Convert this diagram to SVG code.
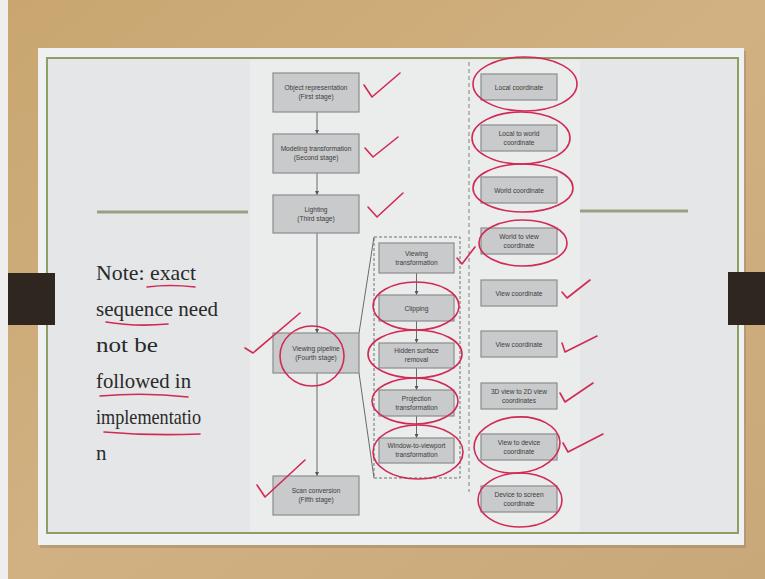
<svg xmlns="http://www.w3.org/2000/svg" width="765" height="579" viewBox="0 0 765 579">
<defs>
<linearGradient id="wood" x1="0" y1="0" x2="1" y2="1">
<stop offset="0" stop-color="#c9a66f"/>
<stop offset="0.5" stop-color="#d1b182"/>
<stop offset="1" stop-color="#c8a878"/>
</linearGradient>
<marker id="ah" viewBox="0 0 6 6" refX="6" refY="3" markerWidth="4" markerHeight="4" orient="auto">
<path d="M0,0 L6,3 L0,6 z" fill="#555"/>
</marker>
<style>
.box{fill:#c9cacb;stroke:#8c8d8e;stroke-width:1.2}
.lbl{font-family:"Liberation Sans Narrow","Liberation Sans",Arial,sans-serif;font-size:6.6px;fill:#3c3c3c;text-anchor:middle}
.con{stroke:#6a6a6a;stroke-width:1;fill:none}
.red{stroke:#d02a55;stroke-width:1.6;fill:none;stroke-linecap:round;stroke-linejoin:round}
.note{font-family:"Liberation Serif","Times New Roman",serif;font-size:21px;fill:#2a2a2a}
.rule{stroke:#9b9f82;stroke-width:3}
</style>
</defs>
<rect x="0" y="0" width="765" height="579" fill="url(#wood)"/>
<rect x="0" y="0" width="8" height="579" fill="#eeeeee"/>
<rect x="40" y="51" width="706" height="497" fill="#9c8a6a" opacity="0.5"/>
<rect x="38" y="48" width="706" height="497" fill="#eef0f1"/>
<rect x="47" y="58" width="691" height="475" fill="#e4e6e8" stroke="#8f9e64" stroke-width="2"/>
<rect x="250" y="60" width="330" height="472" fill="#ebecec"/>
<line class="rule" x1="97" y1="212" x2="248" y2="212"/>
<line class="rule" x1="580" y1="211" x2="688" y2="211"/>
<rect x="8" y="273" width="47" height="52" fill="#2e261f"/>
<rect x="728" y="272" width="37" height="53" fill="#2e261f"/>

<g id="connectors">
<line class="con" x1="317" y1="112" x2="317" y2="134" marker-end="url(#ah)"/>
<line class="con" x1="317" y1="173" x2="317" y2="195" marker-end="url(#ah)"/>
<line class="con" x1="317" y1="233" x2="317" y2="333" marker-end="url(#ah)"/>
<line class="con" x1="317" y1="373" x2="317" y2="476" marker-end="url(#ah)"/>
<line class="con" x1="359" y1="333" x2="374" y2="237" stroke="#999"/>
<line class="con" x1="359" y1="373" x2="374" y2="478" stroke="#999"/>
<line class="con" x1="416.5" y1="273" x2="416.5" y2="295" marker-end="url(#ah)"/>
<line class="con" x1="416.5" y1="321" x2="416.5" y2="343" marker-end="url(#ah)"/>
<line class="con" x1="416.5" y1="368" x2="416.5" y2="390" marker-end="url(#ah)"/>
<line class="con" x1="416.5" y1="416" x2="416.5" y2="438" marker-end="url(#ah)"/>
<rect x="374" y="237" width="86" height="241" fill="none" stroke="#707070" stroke-width="1" stroke-dasharray="3,2"/>
<line x1="469" y1="62" x2="469" y2="492" stroke="#808080" stroke-width="1" stroke-dasharray="4,3"/>
</g>

<g id="n-object"><rect class="box" x="273" y="73" width="86" height="39"/><text class="lbl" x="316" y="90">Object representation</text><text class="lbl" x="316" y="99">(First stage)</text></g>
<g id="n-modeling"><rect class="box" x="273" y="134" width="86" height="39"/><text class="lbl" x="316" y="151">Modeling transformation</text><text class="lbl" x="316" y="160">(Second stage)</text></g>
<g id="n-lighting"><rect class="box" x="273" y="195" width="86" height="38"/><text class="lbl" x="316" y="211.5">Lighting</text><text class="lbl" x="316" y="220.5">(Third stage)</text></g>
<g id="n-viewing"><rect class="box" x="273" y="333" width="86" height="40"/><text class="lbl" x="316" y="350.5">Viewing pipeline</text><text class="lbl" x="316" y="359.5">(Fourth stage)</text></g>
<g id="n-scan"><rect class="box" x="273" y="476" width="86" height="39"/><text class="lbl" x="316" y="493">Scan conversion</text><text class="lbl" x="316" y="502">(Fifth stage)</text></g>

<g id="n-vt"><rect class="box" x="379" y="243" width="75" height="30"/><text class="lbl" x="416.5" y="255.5">Viewing</text><text class="lbl" x="416.5" y="264.5">transformation</text></g>
<g id="n-clip"><rect class="box" x="379" y="295" width="75" height="26"/><text class="lbl" x="416.5" y="310.5">Clipping</text></g>
<g id="n-hsr"><rect class="box" x="379" y="343" width="75" height="25"/><text class="lbl" x="416.5" y="353">Hidden surface</text><text class="lbl" x="416.5" y="362">removal</text></g>
<g id="n-proj"><rect class="box" x="379" y="390" width="75" height="26"/><text class="lbl" x="416.5" y="400.5">Projection</text><text class="lbl" x="416.5" y="409.5">transformation</text></g>
<g id="n-w2v"><rect class="box" x="379" y="438" width="75" height="25"/><text class="lbl" x="416.5" y="448">Window-to-viewport</text><text class="lbl" x="416.5" y="457">transformation</text></g>

<g id="r-local"><rect class="box" x="481" y="74" width="76" height="26"/><text class="lbl" x="519" y="89.5">Local coordinate</text></g>
<g id="r-l2w"><rect class="box" x="481" y="125" width="76" height="26"/><text class="lbl" x="519" y="136">Local to world</text><text class="lbl" x="519" y="145">coordinate</text></g>
<g id="r-world"><rect class="box" x="481" y="177" width="76" height="26"/><text class="lbl" x="519" y="192.5">World coordinate</text></g>
<g id="r-w2v"><rect class="box" x="481" y="228" width="76" height="26"/><text class="lbl" x="519" y="239">World to view</text><text class="lbl" x="519" y="248">coordinate</text></g>
<g id="r-view1"><rect class="box" x="481" y="280" width="76" height="26"/><text class="lbl" x="519" y="295.5">View coordinate</text></g>
<g id="r-view2"><rect class="box" x="481" y="331" width="76" height="26"/><text class="lbl" x="519" y="346.5">View coordinate</text></g>
<g id="r-3d2d"><rect class="box" x="481" y="383" width="76" height="26"/><text class="lbl" x="519" y="394">3D view to 2D view</text><text class="lbl" x="519" y="403">coordinates</text></g>
<g id="r-v2d"><rect class="box" x="481" y="434" width="76" height="26"/><text class="lbl" x="519" y="445">View to device</text><text class="lbl" x="519" y="454">coordinate</text></g>
<g id="r-d2s"><rect class="box" x="481" y="486" width="76" height="26"/><text class="lbl" x="519" y="497">Device to screen</text><text class="lbl" x="519" y="506">coordinate</text></g>

<g id="note">
<text class="note" x="96" y="280" textLength="100" lengthAdjust="spacingAndGlyphs">Note: exact</text>
<text class="note" x="96" y="316" textLength="122" lengthAdjust="spacingAndGlyphs">sequence need</text>
<text class="note" x="96" y="352" textLength="62" lengthAdjust="spacingAndGlyphs">not be</text>
<text class="note" x="96" y="388" textLength="95" lengthAdjust="spacingAndGlyphs">followed in</text>
<text class="note" x="96" y="424" textLength="105" lengthAdjust="spacingAndGlyphs">implementatio</text>
<text class="note" x="96" y="460">n</text>
</g>

<g id="annotations">
<path class="red" d="M147,287 Q170,284 195,287"/>
<path class="red" d="M106,322 Q135,327 168,324"/>
<path class="red" d="M100,396 Q145,392 188,397"/>
<path class="red" d="M104,432 Q150,436 200,434"/>
<path class="red" d="M364,85 L372,97 L400,73"/>
<path class="red" d="M365,148 L373,157 L398,137"/>
<path class="red" d="M368,207 L377,217 L403,193"/>
<path class="red" d="M245,348 L253,353 L300,313"/>
<path class="red" d="M257,485 L265,497 L305,460"/>
<path class="red" d="M457,258 L462,264 L475,247"/>
<ellipse class="red" cx="312" cy="356" rx="32" ry="30"/>
<ellipse class="red" cx="416" cy="306" rx="43" ry="24"/>
<ellipse class="red" cx="415" cy="354" rx="47" ry="24"/>
<ellipse class="red" cx="415" cy="401" rx="43" ry="23"/>
<ellipse class="red" cx="418" cy="452" rx="45" ry="27"/>
<ellipse class="red" cx="525" cy="84" rx="52" ry="27"/>
<ellipse class="red" cx="521" cy="138" rx="49" ry="26"/>
<ellipse class="red" cx="523" cy="188" rx="50" ry="24"/>
<ellipse class="red" cx="523" cy="243" rx="44" ry="23"/>
<ellipse class="red" cx="517" cy="445" rx="43" ry="28" transform="rotate(-5 517 445)"/>
<ellipse class="red" cx="520" cy="500" rx="42" ry="27"/>
<path class="red" d="M562,292 L567,298 L590,280"/>
<path class="red" d="M562,343 L565,352 L597,336"/>
<path class="red" d="M560,393 L565,402 L593,383"/>
<path class="red" d="M563,443 L568,452 L603,434"/>
</g>
</svg>
